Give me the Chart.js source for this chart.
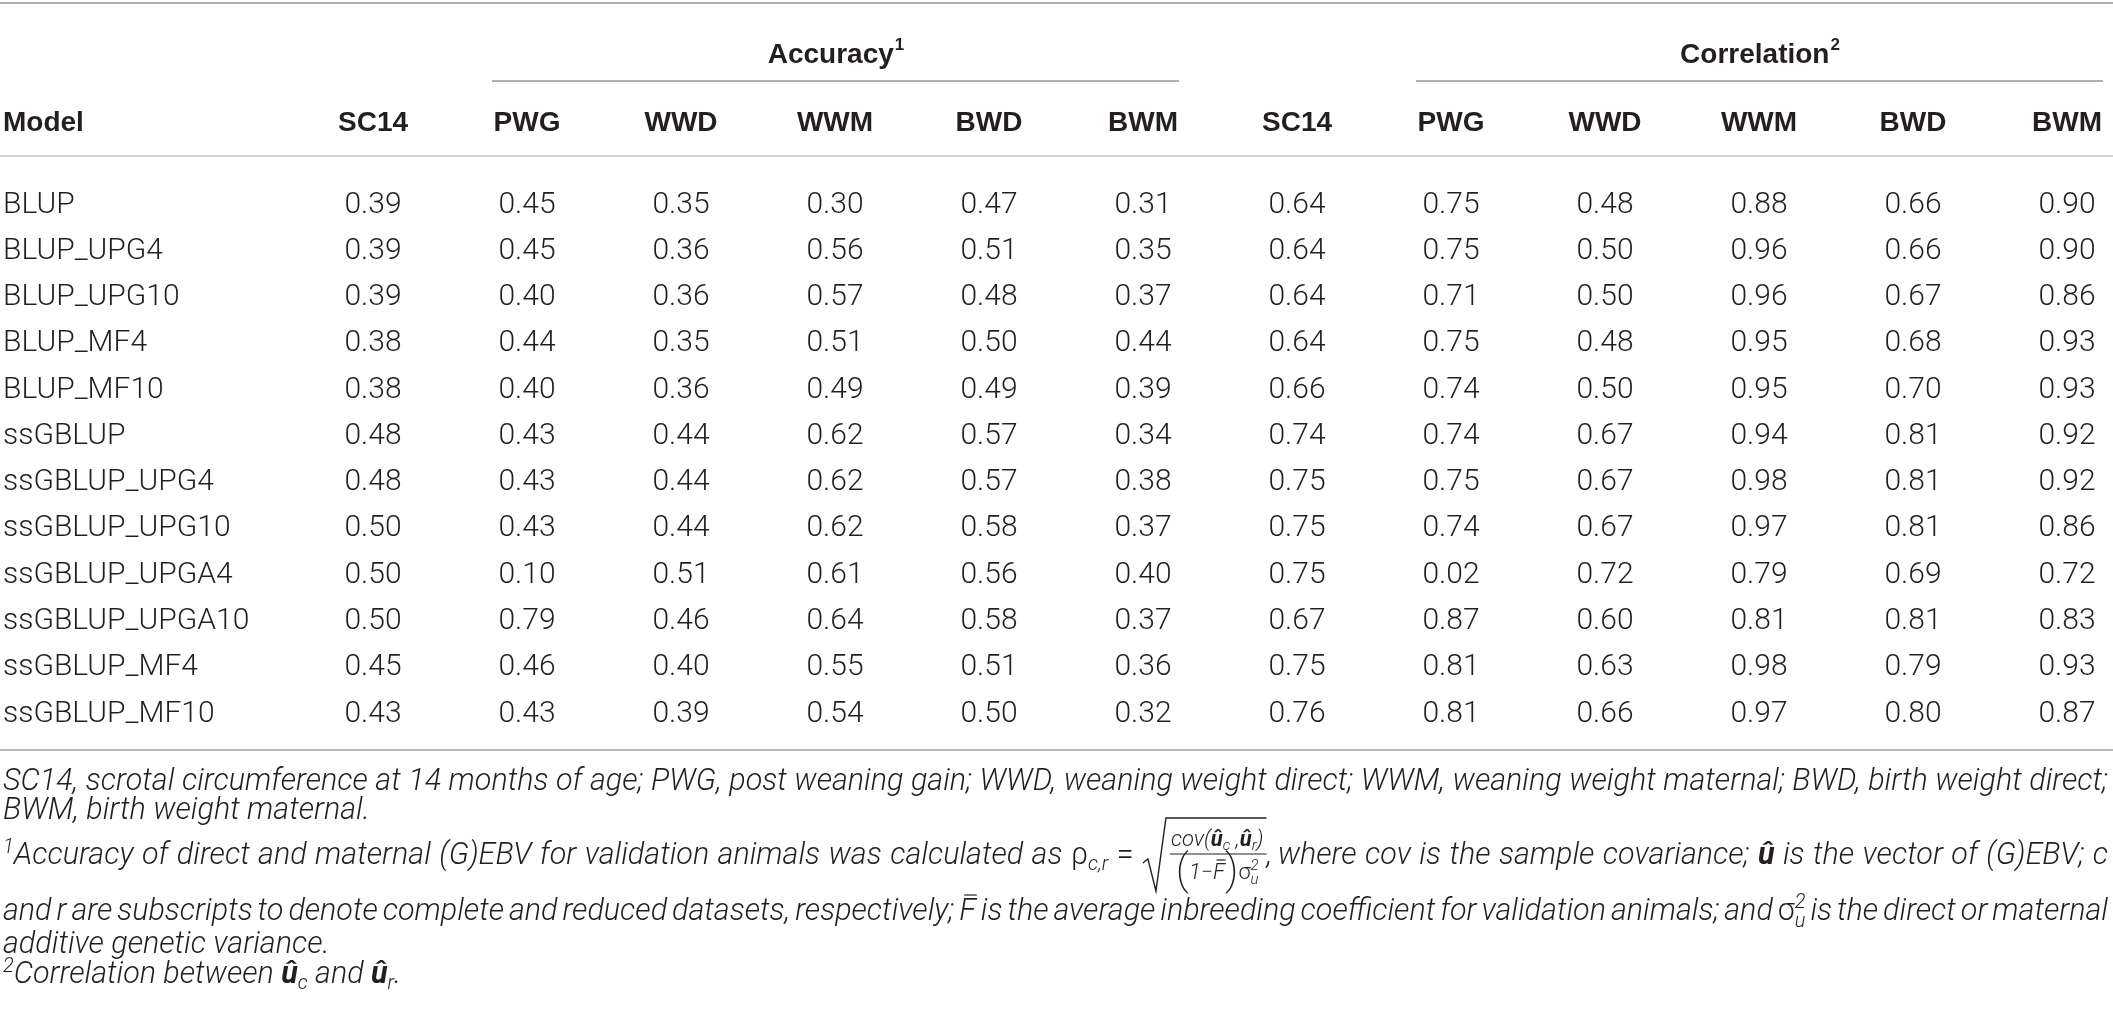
<!DOCTYPE html>
<html>
<head>
    <title>Accuracy and correlation of (G)EBV</title>
    <script src="https://cdn.jsdelivr.net/npm/chart.js@4.4.0/dist/chart.umd.min.js"></script>
    <style>
        html, body { margin: 0; padding: 0; background: #fff; }
        #tabela { display: block; }
    </style>
</head>
<body>

<canvas id="tabela" width="2113" height="1018"></canvas>
<script>
    // row labels (models)
    var models = ["BLUP", "BLUP_UPG4", "BLUP_UPG10", "BLUP_MF4", "BLUP_MF10", "ssGBLUP",
        "ssGBLUP_UPG4", "ssGBLUP_UPG10", "ssGBLUP_UPGA4", "ssGBLUP_UPGA10", "ssGBLUP_MF4", "ssGBLUP_MF10"];

    // column headers
    var traits = ["SC14", "PWG", "WWD", "WWM", "BWD", "BWM"];

    // accuracy
    var accSC14 = [0.39, 0.39, 0.39, 0.38, 0.38, 0.48, 0.48, 0.50, 0.50, 0.50, 0.45, 0.43];
    var accPWG  = [0.45, 0.45, 0.40, 0.44, 0.40, 0.43, 0.43, 0.43, 0.10, 0.79, 0.46, 0.43];
    var accWWD  = [0.35, 0.36, 0.36, 0.35, 0.36, 0.44, 0.44, 0.44, 0.51, 0.46, 0.40, 0.39];
    var accWWM  = [0.30, 0.56, 0.57, 0.51, 0.49, 0.62, 0.62, 0.62, 0.61, 0.64, 0.55, 0.54];
    var accBWD  = [0.47, 0.51, 0.48, 0.50, 0.49, 0.57, 0.57, 0.58, 0.56, 0.58, 0.51, 0.50];
    var accBWM  = [0.31, 0.35, 0.37, 0.44, 0.39, 0.34, 0.38, 0.37, 0.40, 0.37, 0.36, 0.32];

    // correlation
    var corSC14 = [0.64, 0.64, 0.64, 0.64, 0.66, 0.74, 0.75, 0.75, 0.75, 0.67, 0.75, 0.76];
    var corPWG  = [0.75, 0.75, 0.71, 0.75, 0.74, 0.74, 0.75, 0.74, 0.02, 0.87, 0.81, 0.81];
    var corWWD  = [0.48, 0.50, 0.50, 0.48, 0.50, 0.67, 0.67, 0.67, 0.72, 0.60, 0.63, 0.66];
    var corWWM  = [0.88, 0.96, 0.96, 0.95, 0.95, 0.94, 0.98, 0.97, 0.79, 0.81, 0.98, 0.97];
    var corBWD  = [0.66, 0.66, 0.67, 0.68, 0.70, 0.81, 0.81, 0.81, 0.69, 0.81, 0.79, 0.80];
    var corBWM  = [0.90, 0.90, 0.86, 0.93, 0.93, 0.92, 0.92, 0.86, 0.72, 0.83, 0.93, 0.87];

    var columns = [accSC14, accPWG, accWWD, accWWM, accBWD, accBWM,
                   corSC14, corPWG, corWWD, corWWM, corBWD, corBWM];
    var headers = traits.concat(traits);

    // grupy kolumn: [tytul, indeks potegi, pierwsza kolumna, ostatnia kolumna]
    var groups = [["Accuracy", "1", 1, 5], ["Correlation", "2", 7, 11]];

    var ink = "#231f20";
    var bodyFont = "300 30px Roboto";
    var headFont = "bold 28px 'Liberation Sans'";
    var supHead = "bold 17px 'Liberation Sans'";
    var W = 2108;

    function hline(ctx, x0, x1, y, color, lw) {
        ctx.beginPath();
        ctx.strokeStyle = color;
        ctx.lineWidth = lw;
        ctx.moveTo(x0, y);
        ctx.lineTo(x1, y);
        ctx.stroke();
    }

    function pieceWidth(ctx, p) {
        ctx.font = p.f;
        var w = ctx.measureText(p.t).width;
        if (p.under) {
            ctx.font = p.under.f;
            w = Math.max(w, ctx.measureText(p.under.t).width);
        }
        return w;
    }

    function piecesWidth(ctx, ps) {
        var s = 0;
        ps.forEach(function (p) { s += pieceWidth(ctx, p); });
        return s;
    }

    function drawPieces(ctx, ps, x, y) {
        ps.forEach(function (p) {
            var w = pieceWidth(ctx, p);
            ctx.font = p.f;
            ctx.fillText(p.t, x, y + (p.dy || 0));
            if (p.bar) {
                var m = ctx.measureText(p.t);
                var top = y + (p.dy || 0) - m.actualBoundingBoxAscent - 3;
                ctx.beginPath();
                ctx.lineWidth = 1.2;
                ctx.moveTo(x + w * 0.3, top);
                ctx.lineTo(x + w * 1.05, top);
                ctx.stroke();
            }
            if (p.under) {
                ctx.font = p.under.f;
                ctx.fillText(p.under.t, x, y + (p.under.dy || 0));
            }
            x += w;
        });
        return x;
    }

    // przypisy pod tabela, fonty liczone z rozmiaru s
    function buildNotes(s) {
        var FN = "italic 300 " + s + "px Roboto";
        var FNup = "300 " + s + "px Roboto";
        var FNB = "italic bold " + s + "px Roboto";
        var FSM = "italic 300 " + Math.round(s * 0.64) + "px Roboto";
        var FF = "italic 300 " + Math.round(s * 0.72) + "px Roboto";
        var FFB = "italic bold " + Math.round(s * 0.72) + "px Roboto";
        var FFS = "italic 300 " + Math.round(s * 0.5) + "px Roboto";
        var FFup = "300 " + Math.round(s * 0.72) + "px Roboto";
        var FPAREN = "200 " + Math.round(s * 1.4) + "px Roboto";

        function txt(str) {
            return str.split(" ").map(function (w) { return [{ t: w, f: FN }]; });
        }

        var numer = [{ t: "cov(", f: FF }, { t: "û", f: FFB }, { t: "c", f: FFS, dy: 4 }, { t: " ,", f: FF },
                     { t: "û", f: FFB }, { t: "r", f: FFS, dy: 4 }, { t: ")", f: FF }];
        var denom = [{ t: "(", f: FPAREN, dy: 5 }, { t: "1−", f: FF }, { t: "F", f: FF, bar: true },
                     { t: ")", f: FPAREN, dy: 5 }, { t: "σ", f: FFup },
                     { t: "2", f: FFS, dy: -9, under: { t: "u", f: FFS, dy: 5 } }];
        var radical = {
            custom: true,
            width: function (ctx) {
                ctx.font = FN;
                return 26 + Math.max(piecesWidth(ctx, numer), piecesWidth(ctx, denom)) + 6 + ctx.measureText(",").width;
            },
            draw: function (ctx, x, y) {
                var nw = piecesWidth(ctx, numer), dw = piecesWidth(ctx, denom);
                var fw = Math.max(nw, dw) + 6;
                var axis = y - 10;
                ctx.lineWidth = 1.4;
                ctx.beginPath();
                ctx.moveTo(x + 1, axis + 9);
                ctx.lineTo(x + 6, axis + 5);
                ctx.lineTo(x + 14, axis + 37);
                ctx.lineTo(x + 24, axis - 36);
                ctx.lineTo(x + 26 + fw, axis - 36);
                ctx.stroke();
                ctx.lineWidth = 1;
                ctx.beginPath();
                ctx.moveTo(x + 28, axis);
                ctx.lineTo(x + 26 + fw, axis);
                ctx.stroke();
                drawPieces(ctx, numer, x + 26 + (fw - nw) / 2, axis - 8);
                drawPieces(ctx, denom, x + 26 + (fw - dw) / 2, axis + 25);
                ctx.font = FN;
                ctx.fillText(",", x + 26 + fw, y);
            }
        };

        return [
            { y: 790, just: true, words: txt("SC14, scrotal circumference at 14 months of age; PWG, post weaning gain; WWD, weaning weight direct; WWM, weaning weight maternal; BWD, birth weight direct;") },
            { y: 819, just: false, words: txt("BWM, birth weight maternal.") },
            { y: 864, just: true, words: [[{ t: "1", f: FSM, dy: -11 }, { t: "Accuracy", f: FN }]]
                .concat(txt("of direct and maternal (G)EBV for validation animals was calculated as"))
                .concat([[{ t: "ρ", f: FNup }, { t: "c,r", f: FSM, dy: 6 }], [{ t: "=", f: FNup }], radical])
                .concat(txt("where cov is the sample covariance;"))
                .concat([[{ t: "û", f: FNB }]])
                .concat(txt("is the vector of (G)EBV; c")) },
            { y: 920, just: true, words: txt("and r are subscripts to denote complete and reduced datasets, respectively;")
                .concat([[{ t: "F", f: FN, bar: true }]])
                .concat(txt("is the average inbreeding coefficient for validation animals; and"))
                .concat([[{ t: "σ", f: FNup }, { t: "2", f: FSM, dy: -12, under: { t: "u", f: FSM, dy: 7 } }]])
                .concat(txt("is the direct or maternal")) },
            { y: 953, just: false, words: txt("additive genetic variance.") },
            { y: 983, just: false, words: [[{ t: "2", f: FSM, dy: -11 }, { t: "Correlation", f: FN }], [{ t: "between", f: FN }],
                [{ t: "û", f: FNB }, { t: "c", f: FSM, dy: 6 }], [{ t: "and", f: FN }],
                [{ t: "û", f: FNB }, { t: "r", f: FSM, dy: 6 }, { t: ".", f: FN }]] }
        ];
    }

    function lineWidths(ctx, line, font) {
        ctx.font = font;
        var sp = ctx.measureText(" ").width;
        var ws = line.words.map(function (w) { return w.custom ? w.width(ctx) : piecesWidth(ctx, w); });
        var total = ws.reduce(function (a, b) { return a + b; }, 0);
        return { sp: sp, ws: ws, total: total };
    }

    function drawNote(ctx, line, font) {
        var m = lineWidths(ctx, line, font);
        var gap = m.sp;
        if (line.just && m.ws.length > 1) gap = (W - 3 - m.total) / (m.ws.length - 1);
        var x = 3;
        line.words.forEach(function (w, i) {
            if (w.custom) w.draw(ctx, x, line.y);
            else drawPieces(ctx, w, x, line.y);
            x += m.ws[i] + gap;
        });
    }

    var tablePlugin = {
        id: "tablePlugin",
        afterDatasetsDraw: function (chart) {
            var ctx = chart.ctx, xs = chart.scales.x, ys = chart.scales.y;
            var top = ys.getPixelForValue(0), bottom = ys.getPixelForValue(models.length - 1);
            ctx.save();
            ctx.fillStyle = ink;

            // linie
            hline(ctx, 0, 2113, top - 202, "#b0b0b0", 2);
            hline(ctx, 0, 2113, top - 49, "#d4d4d4", 2);
            hline(ctx, 0, 2113, bottom + 36, "#b8b8b8", 2);

            // naglowki grup
            groups.forEach(function (g) {
                var x0 = xs.getPixelForValue(g[2]) - 35, x1 = xs.getPixelForValue(g[3]) + 36;
                hline(ctx, x0, x1, top - 124, "#b0b0b0", 2);
                ctx.font = headFont;
                var w1 = ctx.measureText(g[0]).width;
                ctx.font = supHead;
                var w2 = ctx.measureText(g[1]).width;
                var sx = (x0 + x1) / 2 - (w1 + w2) / 2;
                ctx.textAlign = "left";
                ctx.textBaseline = "alphabetic";
                ctx.font = headFont;
                ctx.fillText(g[0], sx, top - 142);
                ctx.font = supHead;
                ctx.fillText(g[1], sx + w1 + 1, top - 155);
            });

            // naglowki kolumn
            ctx.textBaseline = "middle";
            ctx.font = headFont;
            ctx.textAlign = "left";
            ctx.fillText("Model", 3, top - 82);
            ctx.textAlign = "center";
            headers.forEach(function (h, c) {
                ctx.fillText(h, xs.getPixelForValue(c), top - 82);
            });

            // nazwy modeli
            ctx.font = bodyFont;
            ctx.textAlign = "left";
            models.forEach(function (m, r) {
                ctx.fillText(m, 3, ys.getPixelForValue(r));
            });

            // wartosci w komorkach
            ctx.textAlign = "center";
            chart.data.datasets.forEach(function (ds, c) {
                var meta = chart.getDatasetMeta(c);
                meta.data.forEach(function (pt, r) {
                    ctx.fillText(ds.data[r].v.toFixed(2), pt.x, pt.y);
                });
            });

            // przypisy: rozmiar dobrany tak, by pierwszy wiersz wypelnial szerokosc
            var probe = buildNotes(26);
            var m0 = lineWidths(ctx, probe[0], "italic 300 26px Roboto");
            var natural = m0.total + m0.sp * (m0.ws.length - 1);
            var s = Math.max(22, Math.min(32, Math.floor(26 * (W - 3) / natural * 10) / 10));
            var notes = buildNotes(s);
            ctx.textAlign = "left";
            ctx.textBaseline = "alphabetic";
            ctx.strokeStyle = ink;
            notes.forEach(function (line) { drawNote(ctx, line, "italic 300 " + s + "px Roboto"); });
            ctx.restore();
        }
    };

    new Chart(document.getElementById("tabela"), {
        type: "scatter",
        data: {
            datasets: columns.map(function (vals, c) {
                return {
                    label: headers[c],
                    data: vals.map(function (v, r) { return { x: c, y: r, v: v }; }),
                    pointRadius: 0,
                    pointHoverRadius: 0
                };
            })
        },
        options: {
            responsive: false,
            animation: false,
            devicePixelRatio: 1,
            events: [],
            layout: { padding: { left: 373, right: 46, top: 205, bottom: 304 } },
            scales: {
                x: { type: "linear", min: 0, max: 11, display: false },
                y: { type: "linear", min: 0, max: 11, reverse: true, display: false }
            },
            plugins: { legend: { display: false }, tooltip: { enabled: false } }
        },
        plugins: [tablePlugin]
    });
</script>

</body>
</html>
